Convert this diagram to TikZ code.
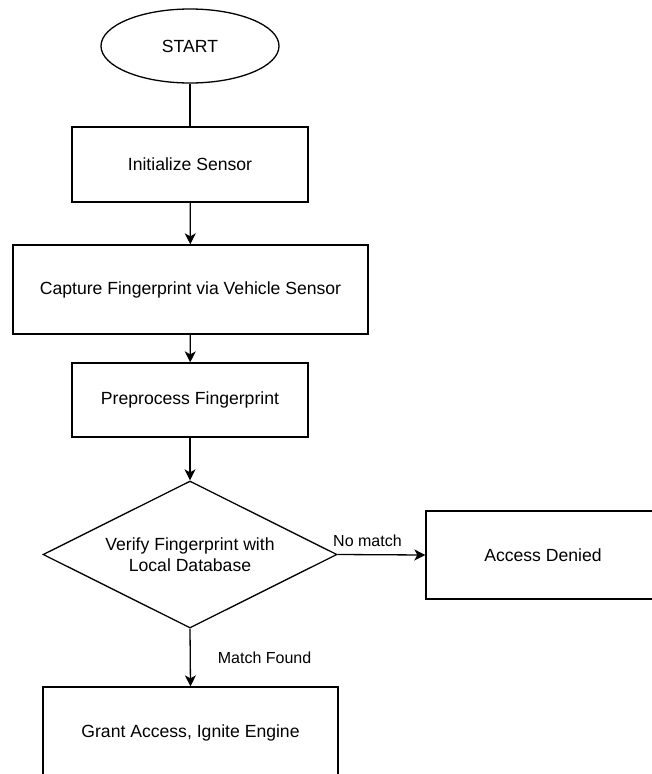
\documentclass[tikz,border=0pt]{standalone}
\usepackage{fontspec}
\setmainfont{Liberation Sans}
\usetikzlibrary{shapes.geometric,arrows.meta}

\begin{document}
\begin{tikzpicture}[x=1pt, y=-1pt,
    procbox/.style={draw, rectangle, line width=1.3pt, inner sep=0pt, font=\fontsize{17.6}{21}\selectfont},
    terminal/.style={draw, ellipse, line width=1.3pt, inner sep=0pt, minimum width=178pt, minimum height=74pt, font=\fontsize{17.6}{21}\selectfont},
    decision/.style={draw, diamond, aspect=2, line width=1.3pt, inner sep=0pt, align=center, minimum width=294pt, minimum height=147pt, font=\fontsize{17.6}{21}\selectfont},
    flow/.style={line width=1.3pt, -{Stealth[length=11pt, width=11pt, inset=3pt]}},
    lbl/.style={font=\fontsize{16}{19}\selectfont, inner sep=0pt}]
    \useasboundingbox (0,0) rectangle (651,774) ;

    \node [terminal] (start) at (190,46) {START} ;
    \node [procbox, minimum width=236pt, minimum height=75pt] (init) at (190,164.5) {Initialize Sensor} ;
    \node [procbox, minimum width=355pt, minimum height=89pt] (capture) at (190.5,289.5) {Capture Fingerprint via Vehicle Sensor} ;
    \node [procbox, minimum width=236pt, minimum height=74pt] (prep) at (190,400) {Preprocess Fingerprint} ;
    \node [decision] (verify) at (190,554.5) {Verify Fingerprint with\\Local Database} ;
    \node [procbox, minimum width=234pt, minimum height=88pt] (denied) at (543,555) {Access Denied} ;
    \node [procbox, minimum width=295pt, minimum height=92pt] (grant) at (190.5,733) {Grant Access, Ignite Engine} ;

    \draw [line width=1.3pt] (start) -- (init) ;
    \draw [flow] (init) -- (capture) ;
    \draw [flow] (capture) -- (prep) ;
    \draw [flow] (prep) -- (verify) ;
    \draw [flow] (verify.east) -- (denied.west) node [lbl, pos=.34, yshift=14pt] {No match} ;
    \draw [flow] (verify.south) -- (grant.north) node [lbl, midway, anchor=west, xshift=27pt] {Match Found} ;
\end{tikzpicture}
\end{document}
